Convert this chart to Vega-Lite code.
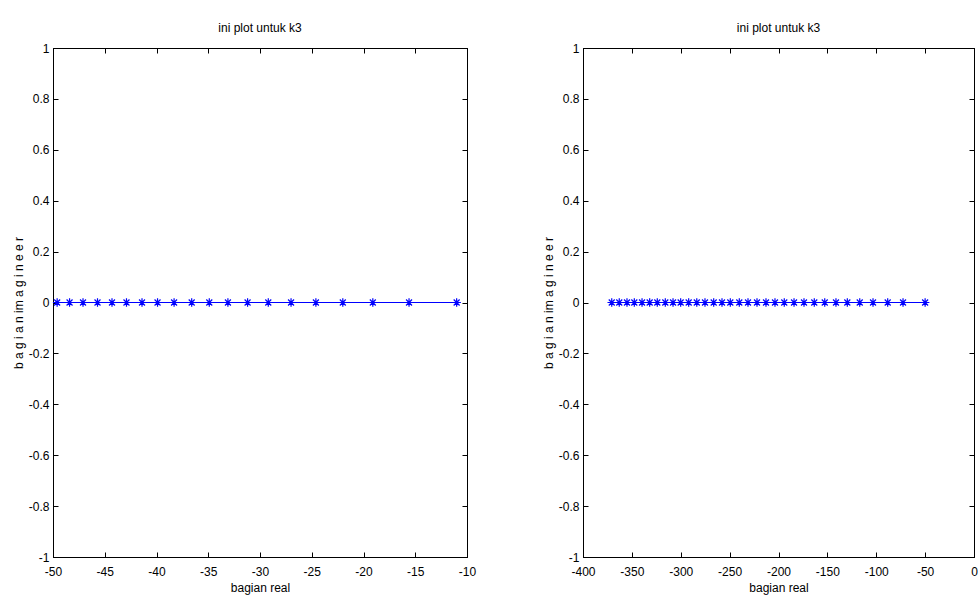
{
  "$schema": "https://vega.github.io/schema/vega-lite/v6.json",
  "padding": {"left": 11, "top": 21, "right": 3, "bottom": 8},
  "background": "white",
  "spacing": 116,
  "bounds": "flush",
  "config": {
    "locale": {"number": {"decimal": ".", "thousands": ",", "grouping": [3], "currency": ["$", ""], "minus": "-"}},
    "view": {"stroke": "black", "strokeWidth": 1},
    "font": "Liberation Sans",
    "title": {"font": "Liberation Sans", "fontSize": 12, "fontWeight": "normal", "color": "black", "offset": 7, "anchor": "middle"},
    "axis": {
      "grid": false,
      "tickSize": -5,
      "tickColor": "black",
      "domainColor": "black",
      "labelColor": "black",
      "titleColor": "black",
      "labelFont": "Liberation Sans",
      "titleFont": "Liberation Sans",
      "labelFontSize": 12,
      "titleFontSize": 12,
      "titleFontWeight": "normal",
      "labelFlush": false,
      "labelOverlap": false
    },
    "axisBottom": {"labelPadding": 14, "titlePadding": 5},
    "axisLeft": {"labelPadding": 9, "titlePadding": 3}
  },
  "hconcat": [
    {
      "width": 414,
      "height": 509,
      "title": "ini plot untuk k3",
      "data": {"values": [
        {"re": -49.6, "im": 0}, {"re": -48.4, "im": 0}, {"re": -47.1, "im": 0}, {"re": -45.7, "im": 0},
        {"re": -44.3, "im": 0}, {"re": -42.9, "im": 0}, {"re": -41.4, "im": 0}, {"re": -39.9, "im": 0},
        {"re": -38.3, "im": 0}, {"re": -36.6, "im": 0}, {"re": -34.9, "im": 0}, {"re": -33.1, "im": 0},
        {"re": -31.2, "im": 0}, {"re": -29.2, "im": 0}, {"re": -27.0, "im": 0}, {"re": -24.6, "im": 0},
        {"re": -22.0, "im": 0}, {"re": -19.1, "im": 0}, {"re": -15.6, "im": 0}, {"re": -11.0, "im": 0}
      ]},
      "layer": [
        {
          "mark": {"type": "line", "color": "#0000ff", "strokeWidth": 1,
            "point": {"shape": "M-1,0L1,0M0,-1L0,1M-0.7,-0.7L0.7,0.7M-0.7,0.7L0.7,-0.7", "filled": false, "size": 72, "color": "#0000ff", "strokeWidth": 1.2}},
          "encoding": {
            "x": {"field": "re", "type": "quantitative", "scale": {"domain": [-50, -10], "nice": false, "zero": false},
              "axis": {"orient": "bottom", "title": "bagian real", "format": "d", "values": [-50, -45, -40, -35, -30, -25, -20, -15, -10]}},
            "y": {"field": "im", "type": "quantitative", "scale": {"domain": [-1, 1], "nice": false},
              "axis": {"orient": "left", "title": "b a g i a n  im a g i n e e r", "format": ".1~f", "values": [-1, -0.8, -0.6, -0.4, -0.2, 0, 0.2, 0.4, 0.6, 0.8, 1]}}
          }
        },
        {
          "mark": {"type": "point", "opacity": 0},
          "encoding": {
            "x": {"field": "re", "type": "quantitative", "axis": {"orient": "top", "title": null, "labels": false, "values": [-50, -45, -40, -35, -30, -25, -20, -15, -10]}},
            "y": {"field": "im", "type": "quantitative", "axis": {"orient": "right", "title": null, "labels": false, "values": [-1, -0.8, -0.6, -0.4, -0.2, 0, 0.2, 0.4, 0.6, 0.8, 1]}}
          }
        }
      ],
      "resolve": {"axis": {"x": "independent", "y": "independent"}}
    },
    {
      "width": 391,
      "height": 509,
      "title": "ini plot untuk k3",
      "data": {"values": [
        {"re": -370.6, "im": 0}, {"re": -362.9, "im": 0}, {"re": -355.0, "im": 0}, {"re": -347.5, "im": 0},
        {"re": -339.6, "im": 0}, {"re": -331.8, "im": 0}, {"re": -324.0, "im": 0}, {"re": -315.8, "im": 0},
        {"re": -307.9, "im": 0}, {"re": -300.1, "im": 0}, {"re": -291.9, "im": 0}, {"re": -283.6, "im": 0},
        {"re": -275.2, "im": 0}, {"re": -266.3, "im": 0}, {"re": -257.8, "im": 0}, {"re": -249.3, "im": 0},
        {"re": -240.1, "im": 0}, {"re": -231.2, "im": 0}, {"re": -222.0, "im": 0}, {"re": -212.8, "im": 0},
        {"re": -203.6, "im": 0}, {"re": -194.1, "im": 0}, {"re": -184.1, "im": 0}, {"re": -173.9, "im": 0},
        {"re": -163.4, "im": 0}, {"re": -152.7, "im": 0}, {"re": -141.2, "im": 0}, {"re": -129.6, "im": 0},
        {"re": -116.9, "im": 0}, {"re": -103.3, "im": 0}, {"re": -88.3, "im": 0}, {"re": -72.6, "im": 0},
        {"re": -50.0, "im": 0}
      ]},
      "layer": [
        {
          "mark": {"type": "line", "color": "#0000ff", "strokeWidth": 1,
            "point": {"shape": "M-1,0L1,0M0,-1L0,1M-0.7,-0.7L0.7,0.7M-0.7,0.7L0.7,-0.7", "filled": false, "size": 72, "color": "#0000ff", "strokeWidth": 1.2}},
          "encoding": {
            "x": {"field": "re", "type": "quantitative", "scale": {"domain": [-400, 0], "nice": false, "zero": false},
              "axis": {"orient": "bottom", "title": "bagian real", "format": "d", "values": [-400, -350, -300, -250, -200, -150, -100, -50, 0]}},
            "y": {"field": "im", "type": "quantitative", "scale": {"domain": [-1, 1], "nice": false},
              "axis": {"orient": "left", "title": "b a g i a n  im a g i n e e r", "format": ".1~f", "values": [-1, -0.8, -0.6, -0.4, -0.2, 0, 0.2, 0.4, 0.6, 0.8, 1]}}
          }
        },
        {
          "mark": {"type": "point", "opacity": 0},
          "encoding": {
            "x": {"field": "re", "type": "quantitative", "axis": {"orient": "top", "title": null, "labels": false, "values": [-400, -350, -300, -250, -200, -150, -100, -50, 0]}},
            "y": {"field": "im", "type": "quantitative", "axis": {"orient": "right", "title": null, "labels": false, "values": [-1, -0.8, -0.6, -0.4, -0.2, 0, 0.2, 0.4, 0.6, 0.8, 1]}}
          }
        }
      ],
      "resolve": {"axis": {"x": "independent", "y": "independent"}}
    }
  ]
}
